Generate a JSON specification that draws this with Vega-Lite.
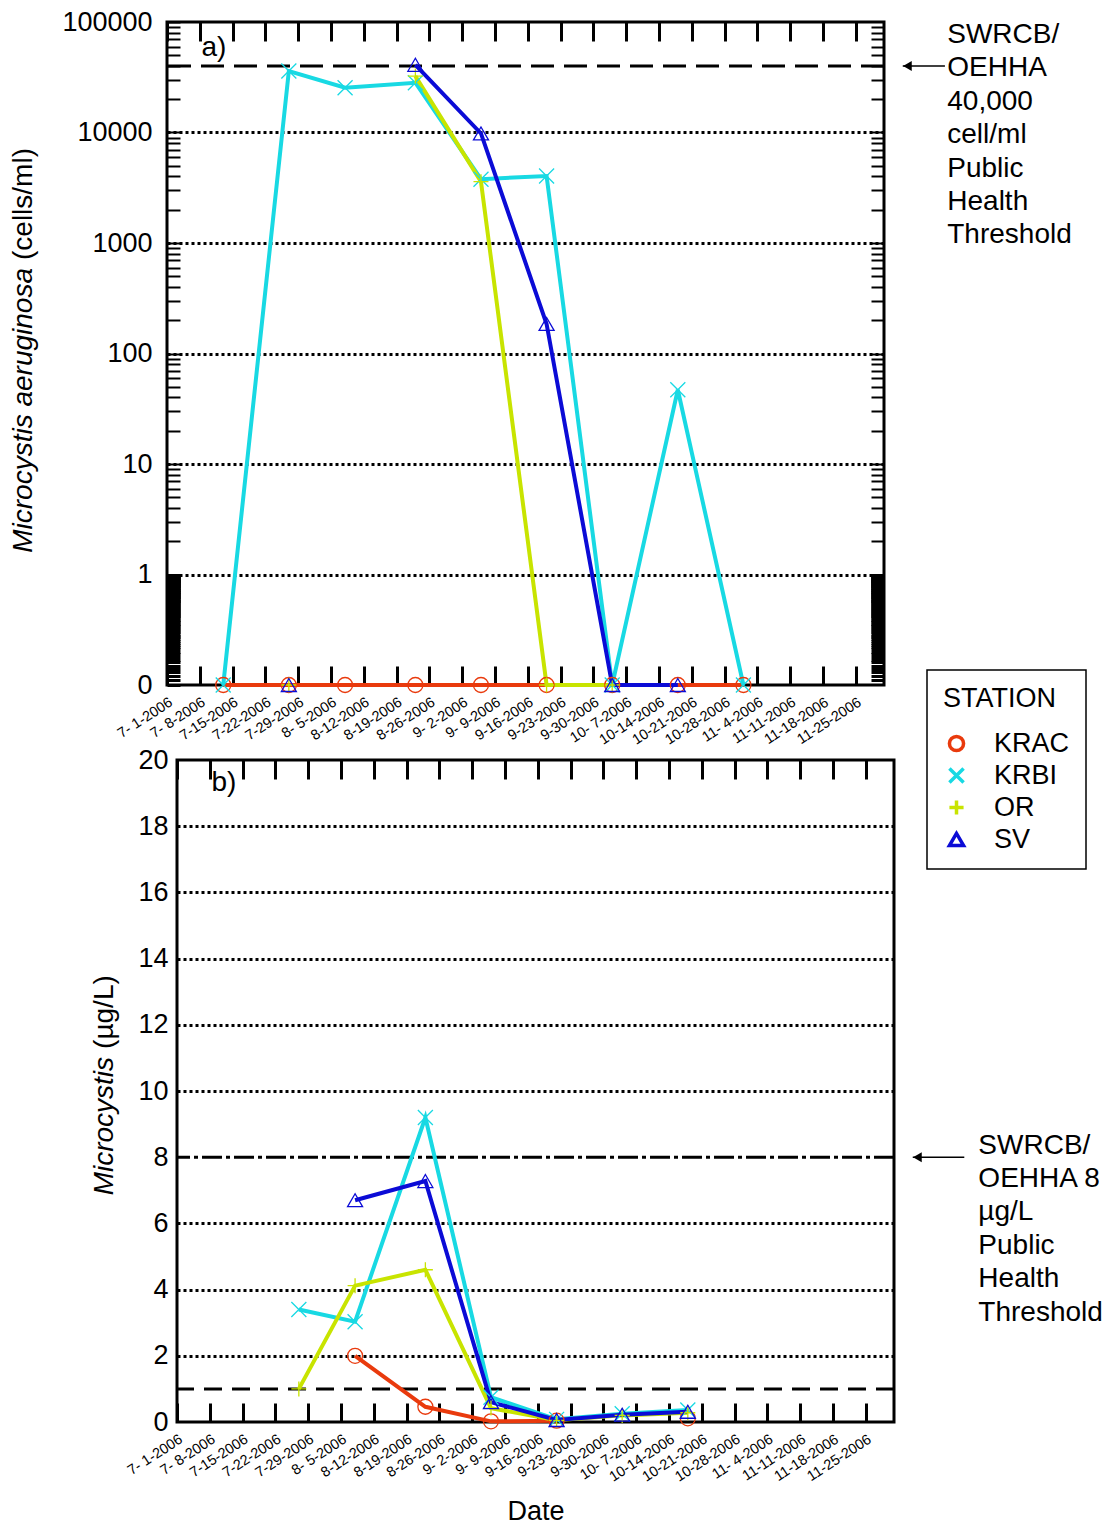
{
  "$schema": "https://vega.github.io/schema/vega-lite/v6.json",
  "padding": {"left": 8, "top": 6, "right": 0, "bottom": 0},
  "bounds": "flush",
  "spacing": 75,
  "datasets": {
    "cells": [
      {"date": "2006-07-13T00:00:00", "station": "KRAC", "value": 0},
      {"date": "2006-07-27T00:00:00", "station": "KRAC", "value": 0},
      {"date": "2006-08-08T00:00:00", "station": "KRAC", "value": 0},
      {"date": "2006-08-23T00:00:00", "station": "KRAC", "value": 0},
      {"date": "2006-09-06T00:00:00", "station": "KRAC", "value": 0},
      {"date": "2006-09-20T00:00:00", "station": "KRAC", "value": 0},
      {"date": "2006-10-04T00:00:00", "station": "KRAC", "value": 0},
      {"date": "2006-10-18T00:00:00", "station": "KRAC", "value": 0},
      {"date": "2006-11-01T00:00:00", "station": "KRAC", "value": 0},
      {"date": "2006-07-13T00:00:00", "station": "KRBI", "value": 0},
      {"date": "2006-07-27T00:00:00", "station": "KRBI", "value": 36000},
      {"date": "2006-08-08T00:00:00", "station": "KRBI", "value": 25400},
      {"date": "2006-08-23T00:00:00", "station": "KRBI", "value": 28200},
      {"date": "2006-09-06T00:00:00", "station": "KRBI", "value": 3780},
      {"date": "2006-09-20T00:00:00", "station": "KRBI", "value": 4040},
      {"date": "2006-10-04T00:00:00", "station": "KRBI", "value": 0},
      {"date": "2006-10-18T00:00:00", "station": "KRBI", "value": 47},
      {"date": "2006-11-01T00:00:00", "station": "KRBI", "value": 0},
      {"date": "2006-07-27T00:00:00", "station": "OR", "value": 0},
      {"date": "2006-08-08T00:00:00", "station": "OR", "value": null},
      {"date": "2006-08-23T00:00:00", "station": "OR", "value": 32400},
      {"date": "2006-09-06T00:00:00", "station": "OR", "value": 3590},
      {"date": "2006-09-20T00:00:00", "station": "OR", "value": 0},
      {"date": "2006-10-04T00:00:00", "station": "OR", "value": 0},
      {"date": "2006-07-27T00:00:00", "station": "SV", "value": 0},
      {"date": "2006-08-08T00:00:00", "station": "SV", "value": null},
      {"date": "2006-08-23T00:00:00", "station": "SV", "value": 41000},
      {"date": "2006-09-06T00:00:00", "station": "SV", "value": 9800},
      {"date": "2006-09-20T00:00:00", "station": "SV", "value": 185},
      {"date": "2006-10-04T00:00:00", "station": "SV", "value": 0},
      {"date": "2006-10-18T00:00:00", "station": "SV", "value": 0}
    ],
    "toxin": [
      {"date": "2006-08-08T00:00:00", "station": "KRAC", "value": 2.0},
      {"date": "2006-08-23T00:00:00", "station": "KRAC", "value": 0.46},
      {"date": "2006-09-06T00:00:00", "station": "KRAC", "value": 0.02},
      {"date": "2006-09-20T00:00:00", "station": "KRAC", "value": 0.04},
      {"date": "2006-10-04T00:00:00", "station": "KRAC", "value": null},
      {"date": "2006-10-18T00:00:00", "station": "KRAC", "value": 0.11},
      {"date": "2006-07-27T00:00:00", "station": "KRBI", "value": 3.4},
      {"date": "2006-08-08T00:00:00", "station": "KRBI", "value": 3.03},
      {"date": "2006-08-23T00:00:00", "station": "KRBI", "value": 9.2},
      {"date": "2006-09-06T00:00:00", "station": "KRBI", "value": 0.75},
      {"date": "2006-09-20T00:00:00", "station": "KRBI", "value": 0.08},
      {"date": "2006-10-04T00:00:00", "station": "KRBI", "value": 0.25},
      {"date": "2006-10-18T00:00:00", "station": "KRBI", "value": 0.36},
      {"date": "2006-07-27T00:00:00", "station": "OR", "value": 1.0},
      {"date": "2006-08-08T00:00:00", "station": "OR", "value": 4.12},
      {"date": "2006-08-23T00:00:00", "station": "OR", "value": 4.6},
      {"date": "2006-09-06T00:00:00", "station": "OR", "value": 0.42},
      {"date": "2006-09-20T00:00:00", "station": "OR", "value": 0.05},
      {"date": "2006-10-04T00:00:00", "station": "OR", "value": 0.2},
      {"date": "2006-10-18T00:00:00", "station": "OR", "value": 0.28},
      {"date": "2006-08-08T00:00:00", "station": "SV", "value": 6.7},
      {"date": "2006-08-23T00:00:00", "station": "SV", "value": 7.28},
      {"date": "2006-09-06T00:00:00", "station": "SV", "value": 0.6},
      {"date": "2006-09-20T00:00:00", "station": "SV", "value": 0.06},
      {"date": "2006-10-04T00:00:00", "station": "SV", "value": 0.22},
      {"date": "2006-10-18T00:00:00", "station": "SV", "value": 0.31}
    ],
    "one": [{}]
  },
  "vconcat": [
    {
      "width": 717,
      "height": 663,
      "data": {"name": "cells"},
      "layer": [
        {
          "data": {"name": "one"},
          "mark": {"type": "rule", "strokeDash": [23, 10], "strokeWidth": 3, "color": "black"},
          "encoding": {"y": {"datum": 40000, "type": "quantitative", "axis": null}}
        },
        {
          "mark": {"type": "line", "strokeWidth": 4},
          "encoding": {
            "x": {
              "field": "date", "type": "temporal",
              "scale": {"domain": [{"year": 2006, "month": 7, "date": 1}, {"year": 2006, "month": 12, "date": 1}], "nice": false},
              "axis": {
                "orient": "bottom", "title": null, "format": "%-m-%e-%Y", "labelAngle": -33, "labelAlign": "right", "labelBaseline": "top",
                "labelFontSize": 14.5, "labelPadding": 29, "labelFlush": false, "labelOverlap": false, "tickSize": -19, "tickWidth": 3, "grid": false,
                "values": [{"year":2006,"month":7,"date":1},{"year":2006,"month":7,"date":8},{"year":2006,"month":7,"date":15},{"year":2006,"month":7,"date":22},{"year":2006,"month":7,"date":29},{"year":2006,"month":8,"date":5},{"year":2006,"month":8,"date":12},{"year":2006,"month":8,"date":19},{"year":2006,"month":8,"date":26},{"year":2006,"month":9,"date":2},{"year":2006,"month":9,"date":9},{"year":2006,"month":9,"date":16},{"year":2006,"month":9,"date":23},{"year":2006,"month":9,"date":30},{"year":2006,"month":10,"date":7},{"year":2006,"month":10,"date":14},{"year":2006,"month":10,"date":21},{"year":2006,"month":10,"date":28},{"year":2006,"month":11,"date":4},{"year":2006,"month":11,"date":11},{"year":2006,"month":11,"date":18},{"year":2006,"month":11,"date":25}]
              }
            },
            "y": {
              "field": "value", "type": "quantitative",
              "scale": {"type": "log", "domain": [0.1, 100000], "clamp": true, "nice": false},
              "axis": {
                "orient": "left", "title": null, "labelFontSize": 27, "labelPadding": 28, "labelOverlap": false, "labelFlush": false,
                "labelExpr": "datum.value == 0.1 ? '0' : (indexof([1,10,100,1000,10000,100000], datum.value) >= 0 ? format(datum.value, 'd') : '')",
                "tickSize": -13,
                "tickWidth": {"condition": {"test": "datum.value < 1", "value": 3}, "value": 2},
                "grid": true, "gridColor": "black", "gridWidth": 3, "gridDash": [3, 3],
                "gridOpacity": {"condition": {"test": "indexof([1,10,100,1000,10000], datum.value) >= 0", "value": 1}, "value": 0},
                "values": [0.1,0.11,0.12,0.13,0.14,0.15,0.16,0.17,0.18,0.19,0.2,0.21,0.22,0.23,0.24,0.25,0.26,0.27,0.28,0.29,0.3,0.31,0.32,0.33,0.34,0.35,0.36,0.37,0.38,0.39,0.4,0.41,0.42,0.43,0.44,0.45,0.46,0.47,0.48,0.49,0.5,0.51,0.52,0.53,0.54,0.55,0.56,0.57,0.58,0.59,0.6,0.61,0.62,0.63,0.64,0.65,0.66,0.67,0.68,0.69,0.7,0.71,0.72,0.73,0.74,0.75,0.76,0.77,0.78,0.79,0.8,0.81,0.82,0.83,0.84,0.85,0.86,0.87,0.88,0.89,0.9,0.91,0.92,0.93,0.94,0.95,0.96,0.97,0.98,0.99,1,2,3,4,5,6,7,8,9,10,20,30,40,50,60,70,80,90,100,200,300,400,500,600,700,800,900,1000,2000,3000,4000,5000,6000,7000,8000,9000,10000,20000,30000,40000,50000,60000,70000,80000,90000,100000]
              }
            },
            "stroke": {
              "field": "station", "type": "nominal",
              "scale": {"range": ["#E93A0D", "#18D9E3", "#C8E400", "#0B0BD6"]},
              "legend": null
            }
          }
        },
        {
          "mark": {"type": "point", "filled": false, "size": 225, "strokeWidth": 1.3, "opacity": 1},
          "encoding": {
            "x": {"field": "date", "type": "temporal", "axis": null},
            "y": {"field": "value", "type": "quantitative", "axis": null},
            "color": {
              "field": "station", "type": "nominal",
              "scale": {"domain": ["KRAC", "KRBI", "OR", "SV"], "range": ["#E93A0D", "#18D9E3", "#C8E400", "#0B0BD6"]},
              "legend": {"title": "STATION", "orient": "none", "legendX": 760, "legendY": 648}
            },
            "shape": {
              "field": "station", "type": "nominal",
              "scale": {"domain": ["KRAC", "KRBI", "OR", "SV"], "range": ["circle", "M-1,-1L1,1M-1,1L1,-1", "M-1,0L1,0M0,-1L0,1", "triangle-up"]},
              "legend": {"title": "STATION", "orient": "none", "legendX": 760, "legendY": 648}
            }
          }
        },
        {
          "data": {"name": "one"},
          "mark": {"type": "text", "text": ["SWRCB/", "OEHHA", "40,000", "cell/ml", "Public", "Health", "Threshold"], "align": "left", "baseline": "top", "fontSize": 28, "lineHeight": 33.4, "dy": -45, "color": "black"},
          "encoding": {
            "x": {
              "datum": {"year": 2006, "month": 12, "date": 14, "hours": 12}, "type": "temporal",
              "axis": {
                "orient": "top", "title": null, "labels": false, "tickSize": -19, "tickWidth": 3, "grid": false,
                "values": [{"year":2006,"month":7,"date":1},{"year":2006,"month":7,"date":8},{"year":2006,"month":7,"date":15},{"year":2006,"month":7,"date":22},{"year":2006,"month":7,"date":29},{"year":2006,"month":8,"date":5},{"year":2006,"month":8,"date":12},{"year":2006,"month":8,"date":19},{"year":2006,"month":8,"date":26},{"year":2006,"month":9,"date":2},{"year":2006,"month":9,"date":9},{"year":2006,"month":9,"date":16},{"year":2006,"month":9,"date":23},{"year":2006,"month":9,"date":30},{"year":2006,"month":10,"date":7},{"year":2006,"month":10,"date":14},{"year":2006,"month":10,"date":21},{"year":2006,"month":10,"date":28},{"year":2006,"month":11,"date":4},{"year":2006,"month":11,"date":11},{"year":2006,"month":11,"date":18},{"year":2006,"month":11,"date":25}]
              }
            },
            "y": {
              "datum": 40000, "type": "quantitative",
              "axis": {
                "orient": "right", "title": null, "labels": false, "tickSize": -13,
                "tickWidth": {"condition": {"test": "datum.value < 1", "value": 3}, "value": 2},
                "grid": false,
                "values": [0.11,0.12,0.13,0.14,0.15,0.16,0.17,0.18,0.19,0.2,0.21,0.22,0.23,0.24,0.25,0.26,0.27,0.28,0.29,0.3,0.31,0.32,0.33,0.34,0.35,0.36,0.37,0.38,0.39,0.4,0.41,0.42,0.43,0.44,0.45,0.46,0.47,0.48,0.49,0.5,0.51,0.52,0.53,0.54,0.55,0.56,0.57,0.58,0.59,0.6,0.61,0.62,0.63,0.64,0.65,0.66,0.67,0.68,0.69,0.7,0.71,0.72,0.73,0.74,0.75,0.76,0.77,0.78,0.79,0.8,0.81,0.82,0.83,0.84,0.85,0.86,0.87,0.88,0.89,0.9,0.91,0.92,0.93,0.94,0.95,0.96,0.97,0.98,0.99,1,2,3,4,5,6,7,8,9,10,20,30,40,50,60,70,80,90,100,200,300,400,500,600,700,800,900,1000,2000,3000,4000,5000,6000,7000,8000,9000,10000,20000,30000,40000,50000,60000,70000,80000,90000]
              }
            }
          }
        },
        {
          "data": {"name": "one"},
          "mark": {"type": "rule", "strokeWidth": 1.5, "color": "black"},
          "encoding": {
            "x": {"datum": {"year": 2006, "month": 12, "date": 5}, "type": "temporal", "axis": null},
            "x2": {"datum": {"year": 2006, "month": 12, "date": 14}},
            "y": {"datum": 40000, "type": "quantitative", "axis": null}
          }
        },
        {
          "data": {"name": "one"},
          "mark": {"type": "point", "shape": "triangle-left", "filled": true, "size": 100, "color": "black", "opacity": 1},
          "encoding": {
            "x": {"datum": {"year": 2006, "month": 12, "date": 6}, "type": "temporal", "axis": null},
            "y": {"datum": 40000, "type": "quantitative", "axis": null}
          }
        },
        {
          "data": {"name": "one"},
          "mark": {"type": "text", "text": "a)", "fontSize": 28, "align": "center", "baseline": "middle", "color": "black"},
          "encoding": {
            "x": {"datum": {"year": 2006, "month": 7, "date": 11}, "type": "temporal", "axis": null},
            "y": {"datum": 58000, "type": "quantitative", "axis": null}
          }
        },
        {
          "data": {"name": "one"},
          "mark": {"type": "text", "text": "Microcystis aeruginosa", "fontSize": 28, "fontStyle": "italic", "angle": 270, "align": "right", "baseline": "middle", "color": "black"},
          "encoding": {
            "x": {"datum": {"year": 2006, "month": 5, "date": 31, "hours": 12}, "type": "temporal", "axis": null},
            "y": {"datum": 594, "type": "quantitative", "axis": null}
          }
        },
        {
          "data": {"name": "one"},
          "mark": {"type": "text", "text": "(cells/ml)", "fontSize": 28, "angle": 270, "align": "left", "baseline": "middle", "dx": 8, "color": "black"},
          "encoding": {
            "x": {"datum": {"year": 2006, "month": 5, "date": 31, "hours": 12}, "type": "temporal", "axis": null},
            "y": {"datum": 594, "type": "quantitative", "axis": null}
          }
        }
      ],
      "resolve": {"axis": {"x": "independent", "y": "independent"}}
    },
    {
      "bounds": "flush",
      "spacing": 9,
      "hconcat": [
        {
          "width": 1,
          "height": 1,
          "data": {"name": "one"},
          "mark": {"type": "point", "opacity": 0},
          "encoding": {},
          "view": {"stroke": null}
        },
        {
          "width": 717,
          "height": 662,
          "data": {"name": "toxin"},
          "layer": [
            {
              "data": {"name": "one"},
              "mark": {"type": "rule", "strokeDash": [18, 10], "strokeWidth": 3, "color": "black"},
              "encoding": {"y": {"datum": 1, "type": "quantitative", "axis": null}}
            },
            {
              "data": {"name": "one"},
              "mark": {"type": "rule", "strokeDash": [20, 4, 4, 4], "strokeWidth": 3, "color": "black"},
              "encoding": {"y": {"datum": 8, "type": "quantitative", "axis": null}}
            },
            {
              "mark": {"type": "line", "strokeWidth": 4},
              "encoding": {
                "x": {
                  "field": "date", "type": "temporal",
                  "scale": {"domain": [{"year": 2006, "month": 7, "date": 1}, {"year": 2006, "month": 12, "date": 1}], "nice": false},
                  "axis": {
                    "orient": "bottom", "title": "Date", "titleFontSize": 27, "titleFontWeight": "normal", "titlePadding": 15,
                    "format": "%-m-%e-%Y", "labelAngle": -33, "labelAlign": "right", "labelBaseline": "top",
                    "labelFontSize": 14.5, "labelPadding": 29, "labelFlush": false, "labelOverlap": false, "tickSize": -19, "tickWidth": 3, "grid": false,
                    "values": [{"year":2006,"month":7,"date":1},{"year":2006,"month":7,"date":8},{"year":2006,"month":7,"date":15},{"year":2006,"month":7,"date":22},{"year":2006,"month":7,"date":29},{"year":2006,"month":8,"date":5},{"year":2006,"month":8,"date":12},{"year":2006,"month":8,"date":19},{"year":2006,"month":8,"date":26},{"year":2006,"month":9,"date":2},{"year":2006,"month":9,"date":9},{"year":2006,"month":9,"date":16},{"year":2006,"month":9,"date":23},{"year":2006,"month":9,"date":30},{"year":2006,"month":10,"date":7},{"year":2006,"month":10,"date":14},{"year":2006,"month":10,"date":21},{"year":2006,"month":10,"date":28},{"year":2006,"month":11,"date":4},{"year":2006,"month":11,"date":11},{"year":2006,"month":11,"date":18},{"year":2006,"month":11,"date":25}]
                  }
                },
                "y": {
                  "field": "value", "type": "quantitative",
                  "scale": {"domain": [0, 20], "nice": false},
                  "axis": {
                    "orient": "left", "title": null, "labelFontSize": 27, "labelPadding": 9, "labelOverlap": false, "labelFlush": false,
                    "ticks": false,
                    "values": [0, 2, 4, 6, 8, 10, 12, 14, 16, 18, 20],
                    "grid": true, "gridColor": "black", "gridWidth": 3, "gridDash": [3, 3],
                    "gridOpacity": {"condition": {"test": "datum.value > 0 && datum.value < 20 && datum.value != 8", "value": 1}, "value": 0}
                  }
                },
                "stroke": {
                  "field": "station", "type": "nominal",
                  "legend": null
                }
              }
            },
            {
              "mark": {"type": "point", "filled": false, "size": 225, "strokeWidth": 1.3, "opacity": 1},
              "encoding": {
                "x": {"field": "date", "type": "temporal", "axis": null},
                "y": {"field": "value", "type": "quantitative", "axis": null},
                "color": {"field": "station", "type": "nominal"},
                "shape": {"field": "station", "type": "nominal"}
              }
            },
            {
              "data": {"name": "one"},
              "mark": {"type": "text", "text": ["SWRCB/", "OEHHA 8", "µg/L", "Public", "Health", "Threshold"], "align": "left", "baseline": "top", "fontSize": 28, "lineHeight": 33.4, "dy": -25.5, "color": "black"},
              "encoding": {
                "x": {
                  "datum": {"year": 2006, "month": 12, "date": 19}, "type": "temporal",
                  "axis": {
                    "orient": "top", "title": null, "labels": false, "tickSize": -19, "tickWidth": 3, "grid": false,
                    "values": [{"year":2006,"month":7,"date":1},{"year":2006,"month":7,"date":8},{"year":2006,"month":7,"date":15},{"year":2006,"month":7,"date":22},{"year":2006,"month":7,"date":29},{"year":2006,"month":8,"date":5},{"year":2006,"month":8,"date":12},{"year":2006,"month":8,"date":19},{"year":2006,"month":8,"date":26},{"year":2006,"month":9,"date":2},{"year":2006,"month":9,"date":9},{"year":2006,"month":9,"date":16},{"year":2006,"month":9,"date":23},{"year":2006,"month":9,"date":30},{"year":2006,"month":10,"date":7},{"year":2006,"month":10,"date":14},{"year":2006,"month":10,"date":21},{"year":2006,"month":10,"date":28},{"year":2006,"month":11,"date":4},{"year":2006,"month":11,"date":11},{"year":2006,"month":11,"date":18},{"year":2006,"month":11,"date":25}]
                  }
                },
                "y": {"datum": 8, "type": "quantitative", "axis": null}
              }
            },
            {
              "data": {"name": "one"},
              "mark": {"type": "rule", "strokeWidth": 1.5, "color": "black"},
              "encoding": {
                "x": {"datum": {"year": 2006, "month": 12, "date": 5}, "type": "temporal", "axis": null},
                "x2": {"datum": {"year": 2006, "month": 12, "date": 16}},
                "y": {"datum": 8, "type": "quantitative", "axis": null}
              }
            },
            {
              "data": {"name": "one"},
              "mark": {"type": "point", "shape": "triangle-left", "filled": true, "size": 100, "color": "black", "opacity": 1},
              "encoding": {
                "x": {"datum": {"year": 2006, "month": 12, "date": 6}, "type": "temporal", "axis": null},
                "y": {"datum": 8, "type": "quantitative", "axis": null}
              }
            },
            {
              "data": {"name": "one"},
              "mark": {"type": "text", "text": "b)", "fontSize": 28, "align": "center", "baseline": "middle", "color": "black"},
              "encoding": {
                "x": {"datum": {"year": 2006, "month": 7, "date": 11}, "type": "temporal", "axis": null},
                "y": {"datum": 19.3, "type": "quantitative", "axis": null}
              }
            },
            {
              "data": {"name": "one"},
              "mark": {"type": "text", "text": "Microcystis", "fontSize": 28, "fontStyle": "italic", "angle": 270, "align": "right", "baseline": "middle", "color": "black"},
              "encoding": {
                "x": {"datum": {"year": 2006, "month": 6, "date": 15, "hours": 14}, "type": "temporal", "axis": null},
                "y": {"datum": 11.03, "type": "quantitative", "axis": null}
              }
            },
            {
              "data": {"name": "one"},
              "mark": {"type": "text", "text": "(µg/L)", "fontSize": 28, "angle": 270, "align": "left", "baseline": "middle", "dx": 8, "color": "black"},
              "encoding": {
                "x": {"datum": {"year": 2006, "month": 6, "date": 15, "hours": 14}, "type": "temporal", "axis": null},
                "y": {"datum": 11.03, "type": "quantitative", "axis": null}
              }
            }
          ],
          "resolve": {"axis": {"x": "independent", "y": "independent"}}
        }
      ]
    }
  ],
  "config": {
    "font": "Liberation Sans",
    "view": {"stroke": "black", "strokeWidth": 3},
    "axis": {"domain": false, "labelColor": "black", "tickColor": "black", "titleColor": "black", "labelFont": "Liberation Sans", "titleFont": "Liberation Sans"},
    "legend": {
      "titleFontSize": 27, "titleFontWeight": "normal", "titleColor": "black", "titleFont": "Liberation Sans", "titlePadding": 17,
      "labelFontSize": 27, "labelColor": "black", "labelFont": "Liberation Sans", "labelOffset": 24,
      "symbolSize": 200, "symbolStrokeWidth": 3.5, "rowPadding": 3,
      "padding": 16, "strokeColor": "black", "strokeWidth": 1.5
    }
  }
}
